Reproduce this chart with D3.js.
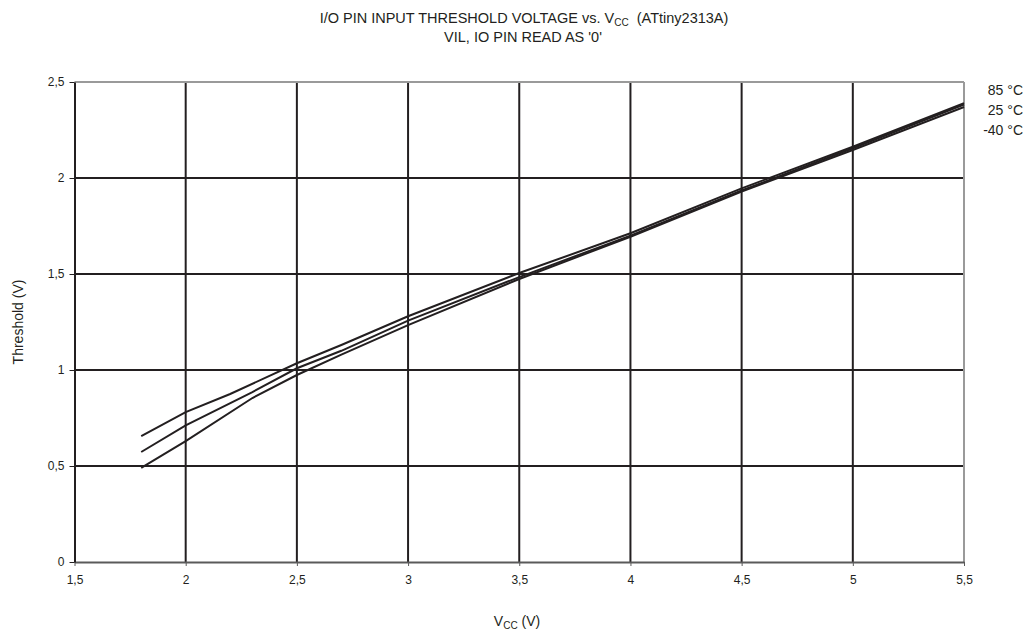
<!DOCTYPE html>
<html><head><meta charset="utf-8">
<script src="https://cdn.jsdelivr.net/npm/d3@7"></script>
<style>body{margin:0;background:#fff;} svg{display:block;font-family:"Liberation Sans",Arial,sans-serif;}</style>
</head><body>
<svg id="c" width="1032" height="635"></svg>
<script>
const xTicks = [1.5, 2, 2.5, 3, 3.5, 4, 4.5, 5, 5.5];
const yTicks = [0, 0.5, 1, 1.5, 2, 2.5];
const vcc85 = [1.8, 2.0, 2.2, 2.5, 2.7, 3.0, 3.5, 4.0, 4.5, 5.0, 5.5];
const th85  = [0.656, 0.781, 0.875, 1.035, 1.13, 1.28, 1.505, 1.712, 1.946, 2.163, 2.39];
const vcc25 = [1.8, 2.0, 2.3, 2.5, 2.7, 3.0, 3.5, 4.0, 4.5, 5.0, 5.5];
const th25  = [0.573, 0.712, 0.885, 1.009, 1.10, 1.257, 1.484, 1.70, 1.935, 2.155, 2.383];
const vccM40 = [1.8, 2.0, 2.3, 2.5, 2.7, 3.0, 3.5, 4.0, 4.5, 5.0, 5.5];
const thM40  = [0.49, 0.630, 0.854, 0.974, 1.08, 1.234, 1.474, 1.694, 1.929, 2.146, 2.37];
const seriesNames = ["85 °C", "25 °C", "-40 °C"];

const svg = d3.select("#c");
const L = 74.5, R = 964, T = 82, B = 562;
const x = d3.scaleLinear().domain([1.5, 5.5]).range([L, R]);
const y = d3.scaleLinear().domain([0, 2.5]).range([B, T]);
const fmt = d => String(d).replace('.', ',');

// grid
svg.append("g").selectAll("line").data(xTicks.slice(1, -1)).join("line")
  .attr("x1", d => x(d)).attr("x2", d => x(d)).attr("y1", T).attr("y2", B)
  .attr("stroke", "#231f20").attr("stroke-width", 2);
svg.append("g").selectAll("line").data(yTicks.slice(1, -1)).join("line")
  .attr("x1", L).attr("x2", R).attr("y1", d => y(d)).attr("y2", d => y(d))
  .attr("stroke", "#231f20").attr("stroke-width", 2);
// top & right borders
svg.append("line").attr("x1", L).attr("x2", R).attr("y1", T).attr("y2", T).attr("stroke", "#9a9a9a").attr("stroke-width", 2);
svg.append("line").attr("x1", R).attr("x2", R).attr("y1", T).attr("y2", B).attr("stroke", "#9a9a9a").attr("stroke-width", 2);

// axes
const gx = svg.append("g").attr("transform", `translate(0,${B})`)
  .call(d3.axisBottom(x).tickValues(xTicks).tickFormat(fmt).tickSize(4).tickSizeOuter(0));
gx.select(".domain").attr("stroke", "#5a5a5a").attr("stroke-width", 2);
gx.selectAll(".tick line").attr("stroke", "#5a5a5a");
gx.selectAll("text").attr("font-size", 12).attr("fill", "#231f20").attr("dy", "1.25em");
const gy = svg.append("g").attr("transform", `translate(${L},0)`)
  .call(d3.axisLeft(y).tickValues(yTicks).tickFormat(fmt).tickSize(5).tickSizeOuter(0));
gy.select(".domain").attr("stroke", "#231f20").attr("stroke-width", 2);
gy.selectAll(".tick line").attr("stroke", "#231f20");
gy.selectAll("text").attr("font-size", 12).attr("fill", "#231f20").attr("x", -10);

// curves
const line = d3.line().x(d => x(d[0])).y(d => y(d[1]));
const series = [
  d3.zip(vcc85, th85),
  d3.zip(vcc25, th25),
  d3.zip(vccM40, thM40)
];
svg.append("g").selectAll("path").data(series).join("path")
  .attr("d", line).attr("fill", "none").attr("stroke", "#231f20").attr("stroke-width", 2);

// legend labels
svg.append("g").selectAll("text").data(seriesNames).join("text")
  .attr("x", 1023).attr("y", (d, i) => 95 + i * 20).attr("text-anchor", "end")
  .attr("font-size", 14).attr("fill", "#231f20").text(d => d);

// titles
const t1 = svg.append("text").attr("x", 524).attr("y", 23).attr("text-anchor", "middle")
  .attr("font-size", 14.5).attr("fill", "#231f20");
t1.append("tspan").text("I/O PIN INPUT THRESHOLD VOLTAGE vs. V");
t1.append("tspan").attr("font-size", 10).attr("dy", 3).text("CC");
t1.append("tspan").attr("dy", -3).text("\u00a0 (ATtiny2313A)");
svg.append("text").attr("x", 523).attr("y", 42).attr("text-anchor", "middle")
  .attr("font-size", 14.5).attr("fill", "#231f20").text("VIL, IO PIN READ AS '0'");

// axis titles
const xt = svg.append("text").attr("x", 517).attr("y", 626).attr("text-anchor", "middle")
  .attr("font-size", 14).attr("fill", "#231f20");
xt.append("tspan").text("V");
xt.append("tspan").attr("font-size", 10).attr("dy", 3).text("CC");
xt.append("tspan").attr("dy", -3).text(" (V)");
svg.append("text").attr("transform", "translate(23,322) rotate(-90)").attr("text-anchor", "middle")
  .attr("font-size", 14).attr("fill", "#231f20").text("Threshold (V)");
</script>
</body></html>
